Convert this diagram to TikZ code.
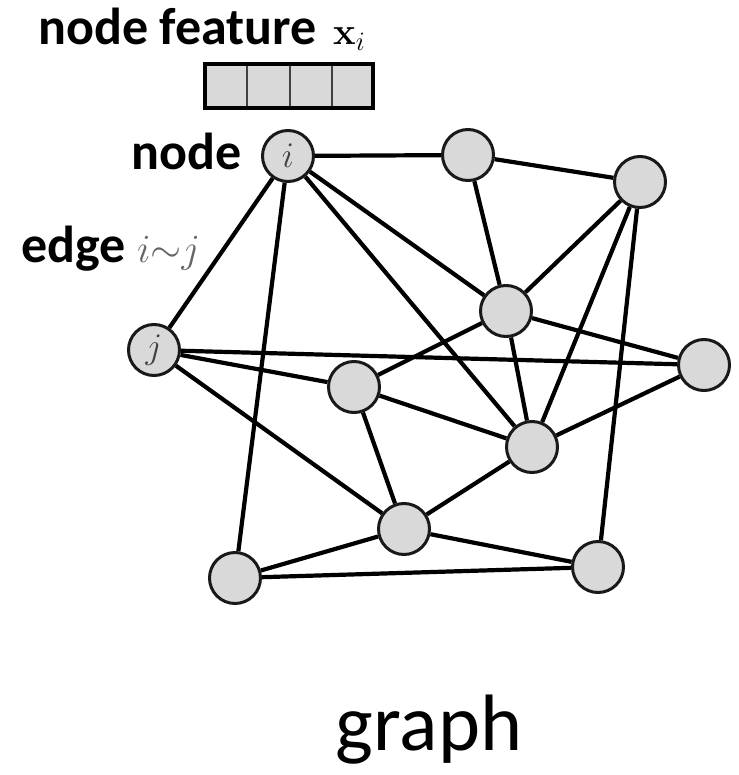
\RequirePackage{fix-cm}
\documentclass[tikz,border=0pt]{standalone}
\usepackage[no-math]{fontspec}
\setmainfont{Carlito}
\begin{document}
\begin{tikzpicture}[x=1pt,y=-1pt,
  gnode/.style={circle,draw=black!90,line width=3pt,fill=black!15,minimum size=51pt,inner sep=0pt},
  gedge/.style={line width=4.2pt,black},
  lbl/.style={inner sep=0pt,font=\fontsize{52}{52}\selectfont\bfseries},
  nlab/.style={text=black!75,font=\fontsize{36}{36}\selectfont}]
\useasboundingbox (0,0) rectangle (738,775);
% feature vector
\draw[fill=black!15,line width=1.4pt,draw=black!75] (205,64) rectangle (373,108);
\draw[line width=1.4pt,draw=black!75] (247,64) -- (247,108) (290,64) -- (290,108) (332,64) -- (332,108);
\draw[line width=4.2pt] (205,64) rectangle (373,108);
% nodes
\node[gnode] (i) at (288,156) {};
\node[gnode] (a) at (468,155) {};
\node[gnode] (b) at (640,182) {};
\node[gnode] (c) at (506,311) {};
\node[gnode] (d) at (704,365) {};
\node[gnode] (j) at (154,350) {};
\node[gnode] (e) at (354,387) {};
\node[gnode] (f) at (532,447) {};
\node[gnode] (g) at (404,529) {};
\node[gnode] (h) at (235,578) {};
\node[gnode] (k) at (598,567) {};
\node[nlab] (ilbl) at (i) {$i$};
\node[nlab] (jlbl) at (j) {$j$};
% edges
\draw[gedge] (i) -- (a);
\draw[gedge] (i) -- (j);
\draw[gedge] (i) -- (h);
\draw[gedge] (i) -- (c);
\draw[gedge] (i) -- (f);
\draw[gedge] (a) -- (b);
\draw[gedge] (a) -- (c);
\draw[gedge] (b) -- (c);
\draw[gedge] (b) -- (f);
\draw[gedge] (b) -- (k);
\draw[gedge] (c) -- (e);
\draw[gedge] (c) -- (f);
\draw[gedge] (c) -- (d);
\draw[gedge] (j) -- (d);
\draw[gedge] (j) -- (e);
\draw[gedge] (j) -- (g);
\draw[gedge] (e) -- (f);
\draw[gedge] (e) -- (g);
\draw[gedge] (f) -- (d);
\draw[gedge] (f) -- (g);
\draw[gedge] (g) -- (h);
\draw[gedge] (g) -- (k);
\draw[gedge] (h) -- (k);
% labels
\node[lbl,anchor=base west] (featlbl) at (38,45) {node feature};
\node[anchor=base west,inner sep=0pt,font=\fontsize{38}{38}\selectfont] (xlbl) at (333,45) {$\mathbf{x}_{i}$};
\node[lbl,anchor=base east] (nodelbl) at (242,170) {node};
\node[lbl,anchor=base west] (edgelbl) at (21,262) {edge};
\node[anchor=base west,inner sep=0pt,text=black!60,font=\fontsize{40}{40}\selectfont] (simlbl) at (137,262) {$i{\sim}j$};
\node[anchor=base,inner sep=0pt,font=\fontsize{80}{80}\selectfont] (graphlbl) at (429,750) {graph};
\end{tikzpicture}
\end{document}
